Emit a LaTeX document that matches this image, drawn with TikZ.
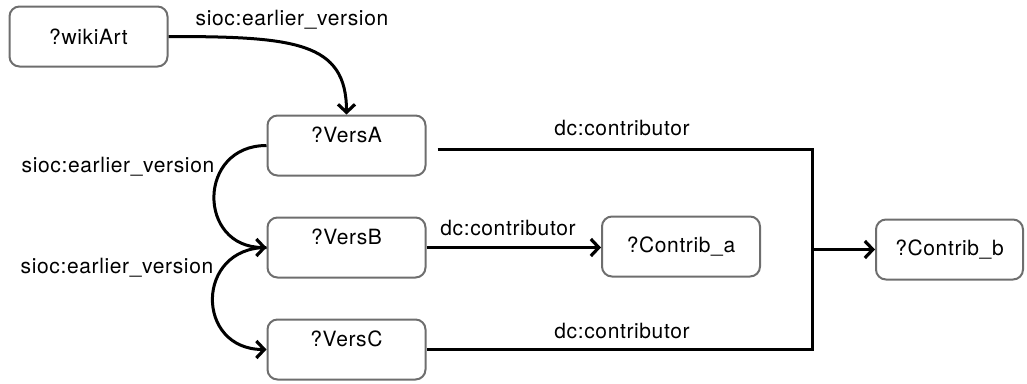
\documentclass[tikz,border=0pt]{standalone}
\usepackage{fontspec}
\setmainfont[LetterSpace=3]{TeX Gyre Heros}
\usetikzlibrary{arrows.meta}
\definecolor{boxgray}{HTML}{6E6E6E}
\begin{document}
\begin{tikzpicture}[x=1pt,y=-1pt,
  every node/.style={font=\fontsize{21}{25}\selectfont, inner sep=0pt},
  box/.style={draw=boxgray, line width=2pt, rounded corners=10pt, fill=white,
    minimum width=158pt, minimum height=60pt},
  toptext/.style={anchor=center, yshift=-20pt},
  conn/.style={line width=3pt, black},
  arr/.style={conn, -{Straight Barb[length=8pt,width=17pt,line width=3.2pt]}},
  lbl/.style={}
]
\useasboundingbox (0,0) rectangle (1027,383);

% nodes
\node[box] (wikiArt) at (88.5,36.5) {?wikiArt};
\node[box, label={[toptext]north:?VersA}] (VersA) at (346.5,145.5) {};
\node[box, label={[toptext]north:?VersB}] (VersB) at (346.5,247.5) {};
\node[box, label={[toptext]north:?VersC}] (VersC) at (346.5,349.5) {};
\node[box] (ContribA) at (681,246.5) {?Contrib\_a};
\node[box, minimum width=147pt] (ContribB) at (949.5,249.5) {?Contrib\_b};

\coordinate (jn) at (812,249.5);

% connectors
\draw[arr] (wikiArt.east) .. controls (295,36.5) and (346.5,42) .. (VersA.north);
\draw[arr] (VersA.west) .. controls (197,145.5) and (197,247.5) .. (VersB.west);
\draw[arr] (VersB.west) .. controls (195,247.5) and (195,349.5) .. (VersC.west);
\draw[arr] (VersB.east) -- (VersB.east -| ContribA.west);
\draw[conn] ([shift={(11,3.5)}]VersA.east) -| (jn) |- (VersC.east);
\draw[arr] (jn) -- (ContribB.west);

% labels
\node[lbl] (l1) at (292,20) {sioc:earlier\_version};
\node[lbl] (l2) at (118,167) {sioc:earlier\_version};
\node[lbl] (l3) at (117,268) {sioc:earlier\_version};
\node[lbl] (l4) at (622,128) {dc:contributor};
\node[lbl] (l5) at (508,228) {dc:contributor};
\node[lbl] (l6) at (622,331) {dc:contributor};
\end{tikzpicture}
\end{document}
